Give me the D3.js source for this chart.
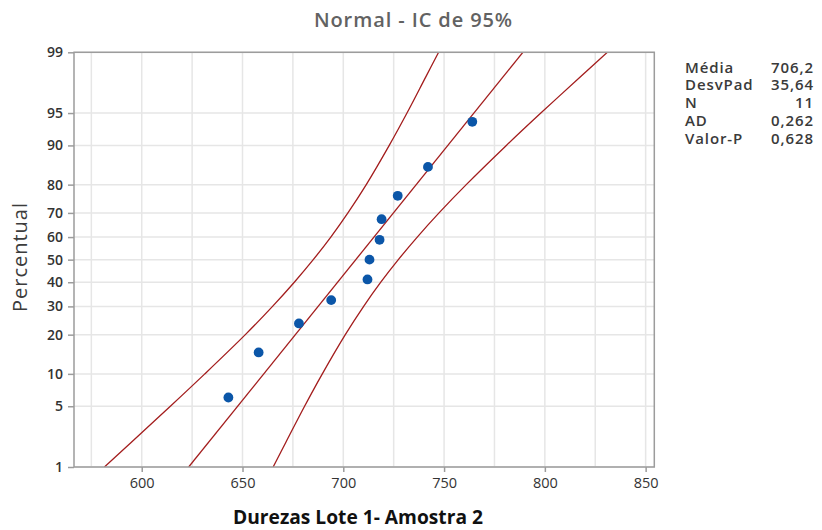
<!DOCTYPE html>
<html>
<head>
<meta charset="utf-8">
<script src="https://cdn.jsdelivr.net/npm/d3@7"></script>
<style>
  html, body { margin: 0; padding: 0; background: #fff; }
  svg { display: block; }
  text { font-family: "Open Sans", "Noto Sans", sans-serif; }
</style>
</head>
<body>
<svg id="chart" width="822" height="530"></svg>
<script>
// Hardness measurements (sample 2 of lot 1)
const durezas = [643, 658, 678, 694, 712, 713, 718, 719, 727, 742, 764];
// Plotting positions (%) of the ordered observations
const percentuais = [6.1, 14.9, 23.7, 32.5, 41.2, 50.0, 58.8, 67.5, 76.3, 85.1, 93.9];

// 95% confidence band for the fitted percentiles
const bandaPct = [1, 2, 5, 10, 20, 30, 40, 50, 60, 70, 80, 90, 95, 98, 99];
const bandaInferior = [581.5, 594.6, 614.2, 631.3, 651.4, 664.9, 675.7, 685.1, 693.8, 702.3, 711.4, 722.8, 731.6, 741.0, 747.3];
const bandaSuperior = [665.2, 671.4, 680.8, 689.6, 701.0, 710.1, 718.6, 727.3, 736.7, 747.5, 761.0, 780.9, 798.0, 817.8, 831.0];

// Summary statistics
const estatLabels = ["Média", "DesvPad", "N", "AD", "Valor-P"];
const estatValores = ["706,2", "35,64", "11", "0,262", "0,628"];
const media = 706.2;
const desvPad = 35.64;

// Axis ticks
const xTicks = [600, 650, 700, 750, 800, 850];
const xGrid = [575, 600, 625, 650, 675, 700, 725, 750, 775, 800, 825, 850];
const yTicks = [1, 5, 10, 20, 30, 40, 50, 60, 70, 80, 90, 95, 99];

// Inverse standard normal CDF (Acklam's rational approximation)
function probit(p) {
  const a = [-3.969683028665376e+01, 2.209460984245205e+02, -2.759285104469687e+02,
             1.383577518672690e+02, -3.066479806614716e+01, 2.506628277459239e+00];
  const b = [-5.447609879822406e+01, 1.615858368580409e+02, -1.556989798598866e+02,
             6.680131188771972e+01, -1.328068155288572e+01];
  const c = [-7.784894002430293e-03, -3.223964580411365e-01, -2.400758277161838e+00,
             -2.549732539343734e+00, 4.374664141464968e+00, 2.938163982698783e+00];
  const d = [7.784695709041462e-03, 3.224671290700398e-01, 2.445134137142996e+00,
             3.754408661907416e+00];
  const pl = 0.02425;
  let q, r;
  if (p < pl) {
    q = Math.sqrt(-2 * Math.log(p));
    return (((((c[0]*q+c[1])*q+c[2])*q+c[3])*q+c[4])*q+c[5]) /
           ((((d[0]*q+d[1])*q+d[2])*q+d[3])*q+1);
  } else if (p <= 1 - pl) {
    q = p - 0.5; r = q * q;
    return (((((a[0]*r+a[1])*r+a[2])*r+a[3])*r+a[4])*r+a[5])*q /
           (((((b[0]*r+b[1])*r+b[2])*r+b[3])*r+b[4])*r+1);
  } else {
    q = Math.sqrt(-2 * Math.log(1 - p));
    return -(((((c[0]*q+c[1])*q+c[2])*q+c[3])*q+c[4])*q+c[5]) /
            ((((d[0]*q+d[1])*q+d[2])*q+d[3])*q+1);
  }
}

const svg = d3.select("#chart");
const frame = { left: 74, right: 654.3, top: 52.3, bottom: 467 };

const x = d3.scaleLinear().domain([566.4, 854.3]).range([frame.left, frame.right]);
// Normal probability scale: percent -> z-score -> pixel
const zScale = d3.scaleLinear()
  .domain([probit(0.01), probit(0.99)])
  .range([frame.bottom, frame.top]);
const y = pct => zScale(probit(pct / 100));

// Grid
const grid = svg.append("g").attr("stroke", "#e6e6e6").attr("stroke-width", 1.5);
grid.selectAll("line.vx").data(xGrid).join("line")
  .attr("x1", d => x(d)).attr("x2", d => x(d))
  .attr("y1", frame.top).attr("y2", frame.bottom);
grid.selectAll("line.hy").data(yTicks).join("line")
  .attr("x1", frame.left).attr("x2", frame.right)
  .attr("y1", d => y(d)).attr("y2", d => y(d));

// Clip for the plotted lines
svg.append("clipPath").attr("id", "area")
  .append("rect")
  .attr("x", frame.left).attr("y", frame.top)
  .attr("width", frame.right - frame.left).attr("height", frame.bottom - frame.top);

const plot = svg.append("g").attr("clip-path", "url(#area)");
const lineColor = "#a31d1d";

const bandLine = d3.line()
  .x(d => x(d[1]))
  .y(d => y(d[0]))
  .curve(d3.curveCatmullRom);

[bandaInferior, bandaSuperior].forEach(vals => {
  plot.append("path")
    .datum(bandaPct.map((p, i) => [p, vals[i]]))
    .attr("d", bandLine)
    .attr("fill", "none")
    .attr("stroke", lineColor)
    .attr("stroke-width", 1.3);
});

// Fitted normal line from the mean and standard deviation
const fitPct = [1, 99];
plot.append("path")
  .datum(fitPct.map(p => [p, media + desvPad * probit(p / 100)]))
  .attr("d", d3.line().x(d => x(d[1])).y(d => y(d[0])))
  .attr("fill", "none")
  .attr("stroke", lineColor)
  .attr("stroke-width", 1.3);

// Observations
svg.append("g").selectAll("circle").data(durezas).join("circle")
  .attr("cx", d => x(d))
  .attr("cy", (d, i) => y(percentuais[i]))
  .attr("r", 4.9)
  .attr("fill", "#0b56a8");

// Frame
svg.append("rect")
  .attr("x", frame.left).attr("y", frame.top)
  .attr("width", frame.right - frame.left).attr("height", frame.bottom - frame.top)
  .attr("fill", "none").attr("stroke", "#9c9c9c").attr("stroke-width", 1.5);

// Y axis
const yAxis = d3.axisLeft(zScale)
  .tickValues(yTicks.map(p => probit(p / 100)))
  .tickFormat((d, i) => yTicks[i])
  .tickSize(6).tickPadding(5);
const gy = svg.append("g").attr("transform", `translate(${frame.left},0)`).call(yAxis);
gy.select(".domain").remove();
gy.selectAll(".tick line").attr("stroke", "#9c9c9c").attr("stroke-width", 1.5);
gy.selectAll(".tick text")
  .attr("font-family", "Open Sans, sans-serif")
  .attr("font-size", 14).attr("font-weight", 600).attr("fill", "#333");

// X axis
const xAxis = d3.axisBottom(x).tickValues(xTicks).tickSize(5).tickPadding(6);
const gx = svg.append("g").attr("transform", `translate(0,${frame.bottom})`).call(xAxis);
gx.select(".domain").remove();
gx.selectAll(".tick line").attr("stroke", "#9c9c9c").attr("stroke-width", 1.5);
gx.selectAll(".tick text")
  .attr("font-family", "Open Sans, sans-serif")
  .attr("font-size", 14.5).attr("fill", "#333");

// Title
svg.append("text")
  .attr("x", 413.5).attr("y", 26.5)
  .attr("text-anchor", "middle")
  .attr("font-size", 20).attr("font-weight", 600).attr("fill", "#626262")
  .attr("letter-spacing", 0.9)
  .text("Normal - IC de 95%");

// Axis titles
svg.append("text")
  .attr("transform", "translate(27,257) rotate(-90)")
  .attr("text-anchor", "middle")
  .attr("font-size", 20).attr("fill", "#3c3c3c")
  .attr("letter-spacing", 1)
  .text("Percentual");

svg.append("text")
  .attr("x", 358).attr("y", 524)
  .attr("text-anchor", "middle")
  .attr("font-family", "Roboto, sans-serif")
  .attr("font-size", 19.2).attr("font-weight", 700).attr("fill", "#111")
  .text("Durezas Lote 1- Amostra 2");

// Statistics table
const stats = svg.append("g")
  .attr("font-size", 15).attr("font-weight", 600).attr("fill", "#3a3a3a")
  .attr("letter-spacing", 0.9);
stats.selectAll("text.lab").data(estatLabels).join("text")
  .attr("class", "lab")
  .attr("x", 685).attr("y", (d, i) => 72.5 + i * 17.9)
  .text(d => d);
stats.selectAll("text.val").data(estatValores).join("text")
  .attr("class", "val")
  .attr("x", 814).attr("y", (d, i) => 72.5 + i * 17.9)
  .attr("text-anchor", "end")
  .text(d => d);
</script>
</body>
</html>
